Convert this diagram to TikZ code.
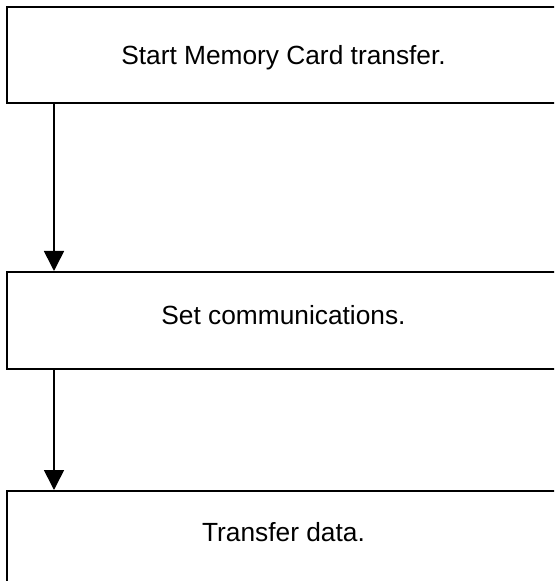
\documentclass[tikz,border=0pt]{standalone}
\usepackage{fontspec}
\setmainfont{Liberation Sans}
\usepackage{tikz}
\usetikzlibrary{positioning,arrows.meta}

\tikzset{
  stepbox/.style={draw, line width=1pt, minimum width=276.5pt, minimum height=48pt,
    inner sep=0pt, text height=9.4pt, text depth=0pt},
  flowarrow/.style={line width=0.8pt, -{Triangle[length=10pt,width=10pt]}}
}

\begin{document}
\begin{tikzpicture}[x=0.5pt, y=-0.5pt, font=\fontsize{13.15}{15}\selectfont]
\useasboundingbox (0,0) rectangle (554,581);
\clip (0,0) rectangle (554,581);
% box 1
\node[stepbox] (start) at (283.5,55) {Start Memory Card transfer.};
% box 2
\node[stepbox, minimum height=48.5pt, text depth=5.5pt, below=83.5pt of start] (setcomm) {Set communications.};
% box 3
\node[stepbox, text depth=6.5pt, below=60pt of setcomm] (transfer) {Transfer data.};
% arrows
\draw[flowarrow] ([xshift=24pt]start.south west) -- ([xshift=24pt]setcomm.north west);
\draw[flowarrow] ([xshift=24pt]setcomm.south west) -- ([xshift=24pt]transfer.north west);
\end{tikzpicture}
\end{document}
